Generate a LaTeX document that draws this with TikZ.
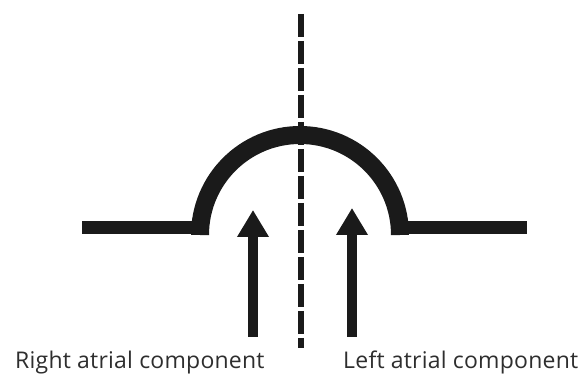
\documentclass[tikz,border=0pt]{standalone}
\usepackage{fontspec}
\newfontfamily\labelfont[LetterSpace=1]{Open Sans}
\usetikzlibrary{arrows.meta}
\definecolor{ink}{HTML}{1A1A1A}
\definecolor{labelgray}{HTML}{2E2E2E}

\begin{document}
\begin{tikzpicture}[
    x=1pt, y=-1pt,
    wall/.style   ={draw=ink, line width=13pt},
    dome/.style   ={draw=ink, line width=18pt},
    midline/.style={draw=ink, line width=5.5pt, dash pattern=on 23pt off 4pt},
    flow/.style   ={draw=ink, line width=10pt, -{Triangle[length=27pt,width=30pt]}},
    caption/.style={font=\labelfont\fontsize{23}{27}\selectfont, text=labelgray, anchor=base west, inner sep=0pt}
]
\useasboundingbox (0,0) rectangle (582,374);

% --- septum line with the bulge ---
\coordinate (lstart) at (82,228);
\coordinate (lend)   at (205,228);
\coordinate (rstart) at (395,228);
\coordinate (rend)   at (527,228);
\draw[wall] (lstart) -- (lend);
\draw[wall] (rstart) -- (rend);
\draw[dome] (200,235) arc[start angle=180, end angle=360, radius=100];

% --- dashed midline ---
\coordinate (mtop) at (301,14);
\coordinate (mbot) at (301,348);
\draw[midline] (mtop) -- (mbot);

% --- arrows up ---
\coordinate (rafoot) at (253,337);
\coordinate (ratip)  at (253,210);
\coordinate (lafoot) at (352,337);
\coordinate (latip)  at (352,208);
\draw[flow] (rafoot) -- (ratip);
\draw[flow] (lafoot) -- (latip);

% --- labels ---
\node[caption] (ra) at (15,369) {Right atrial component};
\node[caption] (la) at (343,369) {Left atrial component};

\end{tikzpicture}
\end{document}
